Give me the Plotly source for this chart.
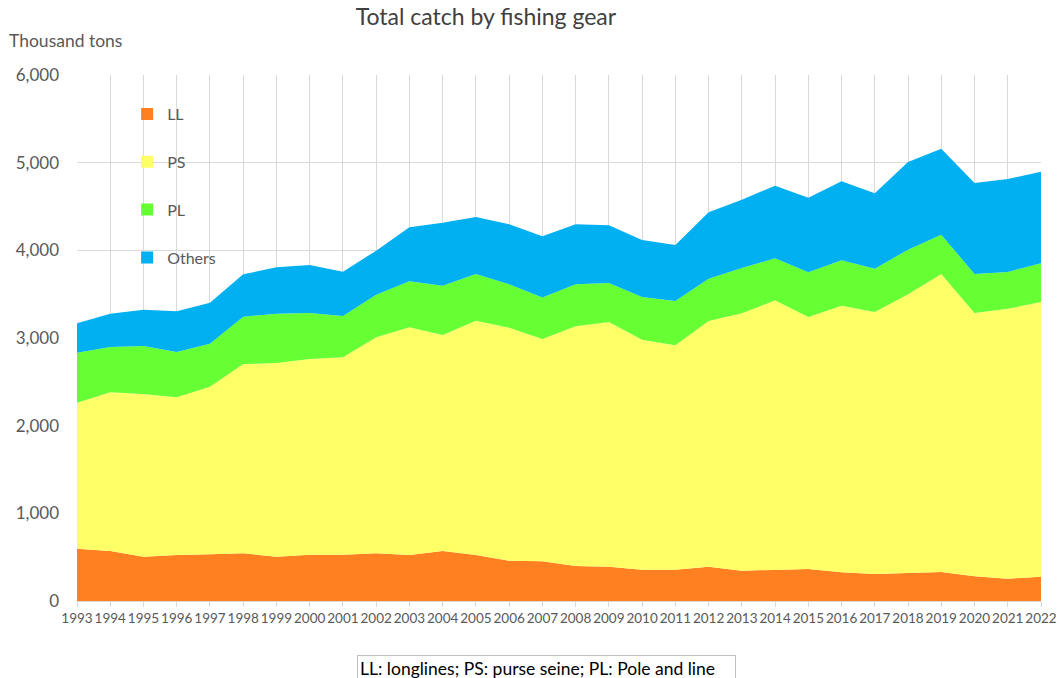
import plotly.graph_objects as go

years = list(range(1993, 2023))
ll = [597, 570, 506, 525, 532, 544, 506, 528, 528, 544, 525, 570, 525, 460, 452,
      399, 392, 357, 357, 392, 346, 354, 365, 327, 308, 319, 331, 281, 254, 277]
ps = [1665, 1810, 1855, 1798, 1913, 2159, 2209, 2232, 2252, 2464, 2597, 2464, 2672, 2658, 2536,
      2734, 2790, 2624, 2559, 2802, 2935, 3076, 2874, 3041, 2988, 3179, 3399, 3004, 3080, 3134]
pl = [571, 517, 548, 517, 490, 540, 562, 525, 471, 486, 524, 563, 533, 494, 474,
      479, 445, 486, 506, 483, 517, 479, 510, 518, 495, 509, 448, 445, 419, 441]
others = [335, 380, 414, 464, 468, 483, 529, 548, 506, 502, 616, 719, 650, 685, 698,
          685, 658, 651, 639, 756, 780, 828, 851, 901, 859, 1000, 981, 1038, 1060, 1045]

series = [("LL", ll, "#FF8021"), ("PS", ps, "#FFFF66"),
          ("PL", pl, "#66FF33"), ("Others", others, "#00B0F0")]

FONT = "Lato"
fig = go.Figure()
for name, vals, col in series:
    fig.add_trace(go.Scatter(
        x=years, y=vals, name=name, stackgroup="one", mode="lines",
        line=dict(width=0, color=col), fillcolor=col, showlegend=False,
    ))
# legend entries with square swatches
for name, vals, col in series:
    fig.add_trace(go.Scatter(
        x=[None], y=[None], name=name, mode="markers", legendgroup=name,
        marker=dict(symbol="square", size=12, color=col),
    ))

fig.update_layout(
    width=1061, height=678, autosize=False,
    margin=dict(l=77, r=20, t=75, b=77),
    paper_bgcolor="white", plot_bgcolor="white",
    font=dict(family=FONT, color="#595959"),
    title=dict(text="Total catch by fishing gear", x=0.458, xanchor="center",
               y=0.975, yanchor="middle", font=dict(size=23, color="#404040", family=FONT)),
    legend=dict(x=0.052, y=0.958, xanchor="left", yanchor="top",
                bgcolor="rgba(0,0,0,0)", traceorder="grouped", tracegroupgap=24,
                itemwidth=30,
                font=dict(size=16, color="#595959", family=FONT)),
    xaxis=dict(range=[1993, 2022], tickmode="array", tickvals=years,
               ticktext=[str(y) for y in years], tickangle=0, automargin=False,
               showgrid=True, gridcolor="#D9D9D9", gridwidth=1,
               ticks="outside", ticklen=5, tickcolor="#D9D9D9",
               showline=True, linecolor="#D9D9D9",
               tickfont=dict(size=13.5, color="#595959", family=FONT), zeroline=False),
    yaxis=dict(range=[0, 6000], tickvals=[0, 1000, 2000, 3000, 4000, 5000, 6000],
               tickformat=",", showgrid=True, gridcolor="#D9D9D9", gridwidth=1,
               showline=False, zeroline=False, ticks="", ticklabelstandoff=17,
               automargin=False,
               tickfont=dict(size=17, color="#595959", family=FONT)),
    annotations=[
        dict(text="Thousand tons", xref="paper", yref="paper", x=-0.0726, y=1.0665,
             xanchor="left", yanchor="middle", showarrow=False,
             font=dict(size=17.5, color="#595959", family=FONT)),
        dict(text="LL: longlines; PS: purse seine; PL: Pole and line",
             xref="paper", yref="paper", x=0.2905, y=-0.1027, xanchor="left", yanchor="top",
             width=373, height=20, showarrow=False, align="left", bordercolor="#BFBFBF",
             borderwidth=1, borderpad=2,
             bgcolor="white", font=dict(size=17.5, color="#000000", family=FONT)),
    ],
)

fig.write_html("out.html", config={"displayModeBar": False},
               post_script="document.body.style.margin='0px';")
